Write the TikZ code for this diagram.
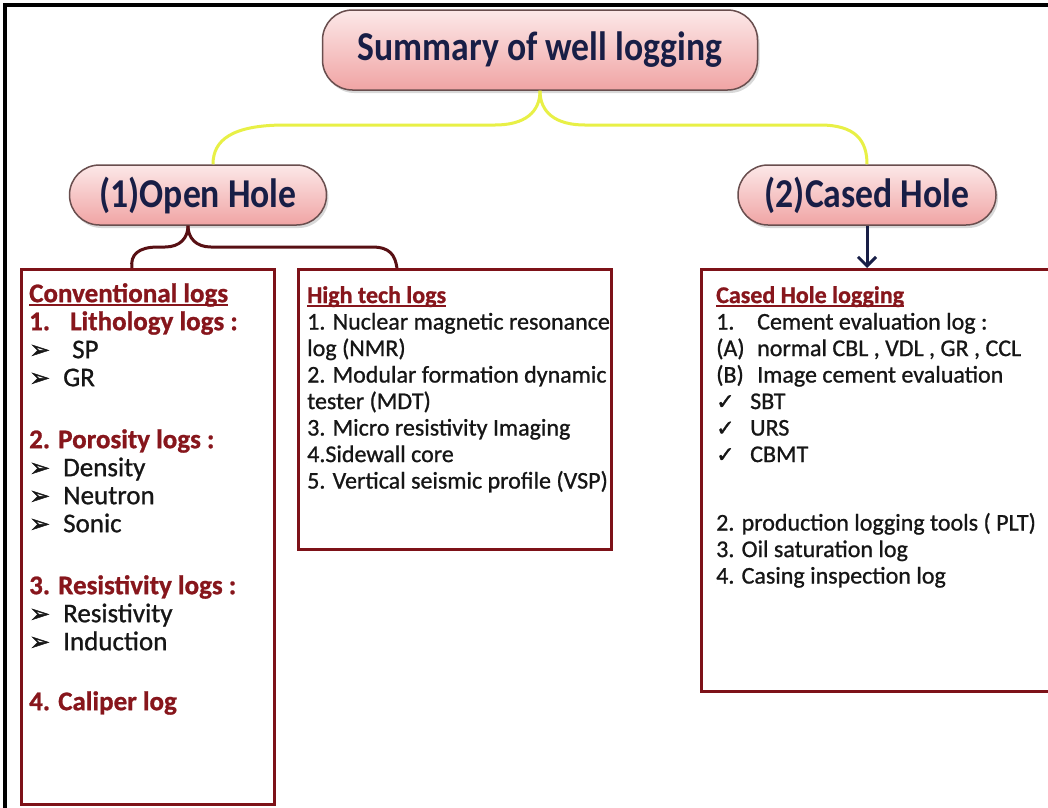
\documentclass[tikz,border=0pt]{standalone}
\usepackage{fontspec}
\setmainfont{Carlito}
\newfontfamily\bodyfont{Carlito}[FakeBold=0.9]
\newfontfamily\pillfont{Carlito}[FakeStretch=0.87]
\newfontfamily\dingfont{DejaVu Sans}[FakeBold=1.5]
\usetikzlibrary{shadows,arrows.meta}

\definecolor{boxred}{RGB}{125,18,24}
\definecolor{headred}{RGB}{135,22,28}
\definecolor{navy}{RGB}{24,30,70}
\definecolor{pinktop}{RGB}{252,232,232}
\definecolor{pinkbot}{RGB}{240,164,164}
\definecolor{pillline}{RGB}{105,78,78}
\definecolor{bracey}{RGB}{232,240,70}
\definecolor{bracer}{RGB}{88,16,20}
\definecolor{bodytext}{RGB}{22,22,22}

\newcommand{\tip}{{\dingfont\fontsize{25}{25}\selectfont ➢}}
\newcommand{\tick}{{\dingfont\fontsize{22}{22}\selectfont ✓}}
\newcommand{\hd}[1]{\textcolor{headred}{\textbf{#1}}}
\newcommand{\hdu}[1]{\textcolor{headred}{\textbf{\setbox0\hbox{#1}\rlap{\rule[-3.5pt]{\wd0}{1.8pt}}\box0}}}
\newcommand{\lead}[2]{\makebox[#1][l]{#2}}

\begin{document}
\begin{tikzpicture}[x=1pt,y=-1pt,
  pill/.style={draw=pillline, line width=1.5pt, rounded corners=30pt,
    top color=pinktop, bottom color=pinkbot,
    drop shadow={shadow xshift=2pt,shadow yshift=-3pt,fill=black!30},
    font=\pillfont\fontsize{41}{44}\selectfont\bfseries, text=navy},
  logbox/.style={draw=boxred, line width=3pt, anchor=north west, inner sep=0pt},
  logtext/.style={anchor=north west, align=left, inner sep=0pt, text=bodytext},
  ybrace/.style={draw=bracey, line width=3pt},
  rbrace/.style={draw=bracer, line width=3pt}]
\clip (0,0) rectangle (1048,807);
\fill[white] (0,0) rectangle (1048,807);

% frame
\draw[line width=4pt] (5,810) -- (5,5) -- (1050,5);

% pills
\node[pill, minimum width=435pt, minimum height=80pt] (title) at (540,50) {Summary of well logging};
\node[pill, minimum width=257pt, minimum height=60pt] (open) at (198,195) {(1)Open Hole};
\node[pill, minimum width=258pt, minimum height=60pt] (cased) at (867,195) {(2)Cased Hole};

% boxes
\node[logbox, minimum width=253pt, minimum height=535pt] (conv) at (20,268) {};
\node[logbox, minimum width=313pt, minimum height=280pt] (high) at (297,268) {};
\node[logbox, minimum width=370pt, minimum height=422pt] (caslog) at (700,268) {};

% braces and arrow
\path[ybrace] (title.south) .. controls (540,112) and (525,125) .. (495,125) -- (285,125)
  .. controls (232,125) and (213,140) .. ([xshift=15pt]open.north);
\path[ybrace] (title.south) .. controls (540,112) and (555,125) .. (585,125) -- (820,125)
  .. controls (855,125) and (867,140) .. (cased.north);
\path[rbrace] ([xshift=-10pt]open.south) .. controls (188,238) and (180,247) .. (165,247) -- (158,247)
  .. controls (138,247) and (130,255) .. ([xshift=-16pt]conv.north);
\path[rbrace] ([xshift=-10pt]open.south) .. controls (188,238) and (196,247) .. (211,247) -- (372,247)
  .. controls (390,247) and (395,255) .. ([xshift=-58pt]high.north);
\path[draw=navy, line width=3pt, -{Straight Barb[length=9pt,width=18pt]}] (cased.south) -- (cased.south |- caslog.north);

% texts
\node[logtext, font=\bodyfont\fontsize{27}{28}\selectfont] (convtxt) at (29,283) {%
\hdu{Conventional logs}\\
\hd{\lead{41pt}{1.}Lithology logs :}\\
\lead{43pt}{\tip}SP\\
\lead{34pt}{\tip}GR\\[34pt]
\hd{2. Porosity logs :}\\
\lead{34pt}{\tip}Density\\
\lead{34pt}{\tip}Neutron\\
\lead{34pt}{\tip}Sonic\\[34pt]
\hd{3. Resistivity logs :}\\
\lead{34pt}{\tip}Resistivity\\
\lead{34pt}{\tip}Induction\\[32pt]
\hd{4. Caliper log}};

\node[logtext, font=\bodyfont\fontsize{24}{26.5}\selectfont] (hightxt) at (307,286) {%
\hdu{High tech logs}\\
1. Nuclear magnetic resonance\\
log (NMR)\\
2. Modular formation dynamic\\
tester (MDT)\\
3. Micro resistivity Imaging\\
4.Sidewall core\\
5. Vertical seismic profile (VSP)};

\node[logtext, font=\bodyfont\fontsize{24}{26.5}\selectfont] (casedtxt) at (716,286) {%
\hdu{Cased Hole logging}\\
\lead{41pt}{1.}Cement evaluation log :\\
\lead{41pt}{(A)}normal CBL , VDL , GR , CCL\\
\lead{41pt}{(B)}Image cement evaluation\\
\lead{34pt}{\tick}SBT\\
\lead{34pt}{\tick}URS\\
\lead{34pt}{\tick}CBMT\\[42pt]
2. production logging tools ( PLT)\\
3. Oil saturation log\\
4. Casing inspection log};
\end{tikzpicture}
\end{document}
